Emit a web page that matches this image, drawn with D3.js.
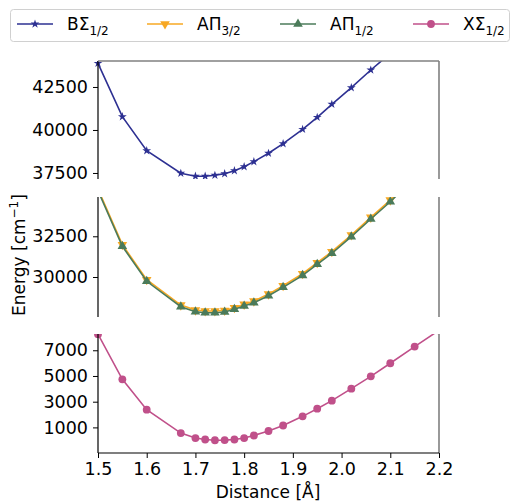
<!DOCTYPE html>
<html>
<head>
<meta charset="utf-8">
<script src="https://cdn.jsdelivr.net/npm/d3@7"></script>
<style>
  body { margin: 0; background: #fff; }
  text { font-family: "DejaVu Sans", sans-serif; fill: #000; }
</style>
</head>
<body>
<div id="chart"></div>
<script>
// distances in angstrom
const distance = [1.5, 1.55, 1.6, 1.67, 1.7, 1.72, 1.74, 1.76, 1.78, 1.8, 1.82,
    1.85, 1.88, 1.92, 1.95, 1.98, 2.02, 2.06, 2.1, 2.15, 2.2]

// energies in cm-1
const bSigma = [43875, 40773, 38797, 37484, 37310, 37310, 37368, 37461, 37636, 37868, 38158,
    38646, 39204, 40039, 40736, 41493, 42458, 43486, 44450]
const aPi32 = [35400, 31985, 29836, 28276, 27970, 27910, 27910, 27950, 28116, 28320, 28520,
    28952, 29467, 30200, 30880, 31555, 32575, 33660, 34720, 36200]
const aPi12 = [35300, 31885, 29736, 28176, 27870, 27810, 27810, 27850, 28016, 28220, 28420,
    28852, 29367, 30100, 30780, 31455, 32475, 33560, 34620, 36100]
const xSigma = [8250, 4740, 2377, 560, 170, 60, 0, 10, 60, 170, 370,
    720, 1150, 1860, 2455, 3080, 4015, 4975, 5990, 7290, 8550]

const xTicks = [1.5, 1.6, 1.7, 1.8, 1.9, 2.0, 2.1, 2.2]
const topTicks = [37500, 40000, 42500]
const midTicks = [30000, 32500]
const lowTicks = [1000, 3000, 5000, 7000]

const W = 513, H = 504
const left = 98, right = 439

var svg = d3.select('#chart').append('svg')
    .attr('width', W).attr('height', H)

var x = d3.scaleLinear().domain([1.5, 2.2]).range([left, right])

var panels = [
    { top: 61, bottom: 179, domain: [37150, 44010], ticks: topTicks,
      series: [{ name: 'b', vals: bSigma, color: '#2d3092', marker: 'star' }] },
    { top: 197, bottom: 317, domain: [27545, 34912], ticks: midTicks,
      series: [{ name: 'a32', vals: aPi32, color: '#f7a823', marker: 'down' },
               { name: 'a12', vals: aPi12, color: '#4b7b5a', marker: 'up' }] },
    { top: 334, bottom: 453, domain: [-992, 8266], ticks: lowTicks,
      series: [{ name: 'x', vals: xSigma, color: '#c0508a', marker: 'circle' }] }
]

function markerPath(kind) {
    if (kind === 'star') return d3.symbol(d3.symbolStar, 24)()
    if (kind === 'circle') return d3.symbol(d3.symbolCircle, 48)()
    return d3.symbol(d3.symbolTriangle, 40)()
}

panels.forEach(function (p, k) {
    var y = d3.scaleLinear().domain(p.domain).range([p.bottom, p.top])
    var g = svg.append('g')

    svg.append('clipPath').attr('id', 'clip' + k)
        .append('rect')
        .attr('x', left - 6).attr('y', p.top)
        .attr('width', right - left + 6).attr('height', p.bottom - p.top)

    var plot = g.append('g').attr('clip-path', 'url(#clip' + k + ')')

    p.series.forEach(function (s) {
        var pts = s.vals.map(function (v, i) { return [distance[i], v] })
        plot.append('path')
            .attr('d', d3.line().x(d => x(d[0])).y(d => y(d[1]))(pts))
            .attr('fill', 'none')
            .attr('stroke', s.color)
            .attr('stroke-width', 1.6)
        plot.selectAll(null)
            .data(pts)
            .enter()
            .append('path')
            .attr('d', markerPath(s.marker))
            .attr('transform', d => 'translate(' + x(d[0]) + ',' + y(d[1]) + ')' +
                (s.marker === 'down' ? ' rotate(180)' : ''))
            .attr('fill', s.color)
    })

    // y axis
    var ya = g.append('g').attr('transform', 'translate(' + left + ',0)')
        .call(d3.axisLeft(y).tickValues(p.ticks).tickSize(5).tickPadding(5).tickFormat(d3.format('d')))
    ya.select('.domain').remove()
    ya.selectAll('.tick line').attr('stroke', '#000').attr('stroke-width', 1)
    ya.selectAll('.tick text').style('font-size', '17.5px').style('font-family', 'DejaVu Sans')

    // spines
    g.append('line').attr('x1', left).attr('x2', left)
        .attr('y1', p.top).attr('y2', p.bottom).attr('stroke', '#000').attr('stroke-width', 1.2)
    g.append('line').attr('x1', right).attr('x2', right)
        .attr('y1', p.top).attr('y2', p.bottom).attr('stroke', '#808080').attr('stroke-width', 1.6)
    if (k === 0) {
        g.append('line').attr('x1', left).attr('x2', right)
            .attr('y1', p.top).attr('y2', p.top).attr('stroke', '#808080').attr('stroke-width', 1.6)
    }
    if (k === 2) {
        var xa = g.append('g').attr('transform', 'translate(0,' + p.bottom + ')')
            .call(d3.axisBottom(x).tickValues(xTicks).tickSize(5).tickPadding(5).tickFormat(d3.format('.1f')))
        xa.select('.domain').remove()
        xa.selectAll('.tick text').style('font-size', '17.5px').style('font-family', 'DejaVu Sans')
        g.append('line').attr('x1', left).attr('x2', right)
            .attr('y1', p.bottom).attr('y2', p.bottom).attr('stroke', '#000').attr('stroke-width', 1.2)
    }
})

// axis labels
svg.append('text')
    .attr('x', 268).attr('y', 498)
    .attr('text-anchor', 'middle')
    .style('font-size', '17px')
    .text('Distance [Å]')

var yl = svg.append('text')
    .attr('transform', 'translate(25,255) rotate(-90)')
    .attr('text-anchor', 'middle')
    .style('font-size', '17px')
yl.append('tspan').text('Energy [cm')
yl.append('tspan').attr('dy', -7).style('font-size', '12px').text('−1')
yl.append('tspan').attr('dy', 7).text(']')

// legend
const legendNames = [['BΣ', '1/2'], ['AΠ', '3/2'], ['AΠ', '1/2'], ['XΣ', '1/2']]
const legendColors = ['#2d3092', '#f7a823', '#4b7b5a', '#c0508a']
const legendMarkers = ['star', 'down', 'up', 'circle']
const legendX = [17, 147, 280, 413]

svg.append('rect')
    .attr('x', 10.5).attr('y', 9.5).attr('width', 499).attr('height', 32)
    .attr('rx', 3).attr('fill', '#fff').attr('stroke', '#d0d0d0')

legendNames.forEach(function (n, i) {
    var lx = legendX[i], ly = 24
    svg.append('line').attr('x1', lx).attr('x2', lx + 36)
        .attr('y1', ly).attr('y2', ly)
        .attr('stroke', legendColors[i]).attr('stroke-width', 1.6)
    svg.append('path').attr('d', markerPath(legendMarkers[i]))
        .attr('transform', 'translate(' + (lx + 18) + ',' + ly + ')' +
            (legendMarkers[i] === 'down' ? ' rotate(180)' : ''))
        .attr('fill', legendColors[i])
    var t = svg.append('text').attr('x', lx + 50).attr('y', ly + 6).style('font-size', '17px')
    t.append('tspan').text(n[0])
    t.append('tspan').attr('dy', 5).style('font-size', '12px').text(n[1])
})
</script>
</body>
</html>
